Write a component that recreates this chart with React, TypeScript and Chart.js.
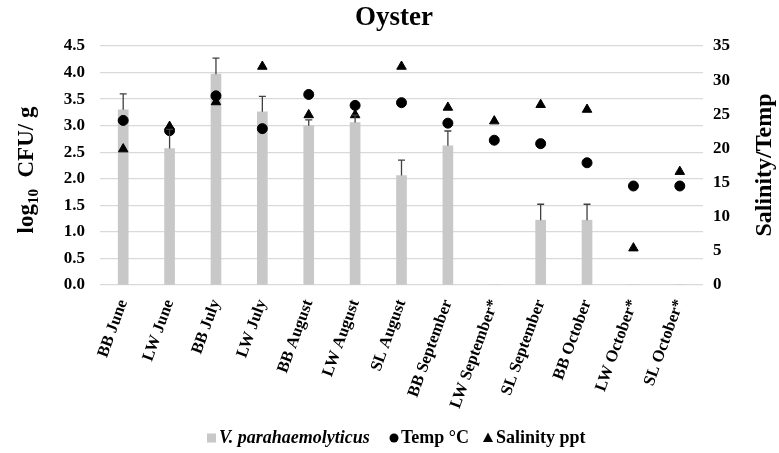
import React, { useEffect, useRef } from "react";
import { Chart, registerables } from "chart.js";

Chart.register(...registerables);

const categories = [
  "BB June", "LW June", "BB July", "LW July", "BB August", "LW August", "SL August",
  "BB September", "LW September*", "SL September", "BB October", "LW October*", "SL October*",
];
const vpValues = [3.3, 2.57, 3.97, 3.26, 3.0, 3.06, 2.06, 2.62, 0, 1.22, 1.22, 0, 0];
const vpErrorTop = [3.6, 2.93, 4.27, 3.55, 3.11, 3.2, 2.35, 2.9, null, 1.52, 1.52, null, null];
const tempValues = [24.1, 22.6, 27.7, 22.9, 27.9, 26.3, 26.7, 23.7, 21.2, 20.7, 17.9, 14.5, 14.5];
const salinityValues = [19.9, 23.2, 26.8, 32, 24.9, 24.9, 32, 26, 24, 26.4, 25.7, 5.4, 16.6];
const leftTicks = [0, 0.5, 1, 1.5, 2, 2.5, 3, 3.5, 4, 4.5];
const rightTicks = [0, 5, 10, 15, 20, 25, 30, 35];

const SERIF = "'Liberation Serif', 'Times New Roman', serif";

const errorBarPlugin = {
  id: "errorBars",
  afterDatasetsDraw(chart: any) {
    const ctx = chart.ctx;
    const meta = chart.getDatasetMeta(0);
    const y = chart.scales.y;
    ctx.save();
    ctx.strokeStyle = "#404040";
    ctx.lineWidth = 1.3;
    meta.data.forEach((bar: any, i: number) => {
      const top = vpErrorTop[i];
      if (top == null) return;
      const x = bar.x;
      const y0 = y.getPixelForValue(vpValues[i]);
      const y1 = y.getPixelForValue(top);
      ctx.beginPath();
      ctx.moveTo(x, y0);
      ctx.lineTo(x, y1);
      ctx.moveTo(x - 3.5, y1);
      ctx.lineTo(x + 3.5, y1);
      ctx.stroke();
    });
    ctx.restore();
  },
};

const decorPlugin = {
  id: "decor",
  afterDraw(chart: any) {
    const ctx = chart.ctx;
    ctx.save();
    ctx.fillStyle = "#000";
    // Title
    ctx.font = `bold 27px ${SERIF}`;
    ctx.textAlign = "center";
    ctx.textBaseline = "middle";
    ctx.fillText("Oyster", 394, 18);

    // Left axis title with subscript
    const big = `bold 23px ${SERIF}`;
    const small = `bold 15px ${SERIF}`;
    ctx.save();
    ctx.translate(27, 170);
    ctx.rotate(-Math.PI / 2);
    ctx.textBaseline = "middle";
    ctx.textAlign = "left";
    ctx.font = big;
    const w1 = ctx.measureText("log").width;
    ctx.font = small;
    const w2 = ctx.measureText("10").width;
    ctx.font = big;
    const w3 = ctx.measureText("  CFU/ g").width;
    const total = w1 + w2 + w3;
    let x = -total / 2;
    ctx.font = big;
    ctx.fillText("log", x, 0);
    x += w1;
    ctx.font = small;
    ctx.fillText("10", x, 7);
    x += w2;
    ctx.font = big;
    ctx.fillText("  CFU/ g", x, 0);
    ctx.restore();

    // Right axis title
    ctx.save();
    ctx.translate(765, 165);
    ctx.rotate(-Math.PI / 2);
    ctx.textAlign = "center";
    ctx.textBaseline = "middle";
    ctx.font = `bold 24px ${SERIF}`;
    ctx.fillText("Salinity/Temp", 0, 0);
    ctx.restore();

    // Legend
    const ly = 438;
    ctx.textBaseline = "middle";
    ctx.textAlign = "left";
    ctx.fillStyle = "#c8c8c8";
    ctx.fillRect(207, ly - 4.5, 9, 9);
    ctx.fillStyle = "#000";
    ctx.font = `italic bold 18px ${SERIF}`;
    ctx.fillText("V. parahaemolyticus", 219, ly);
    ctx.beginPath();
    ctx.arc(394, ly, 4.5, 0, Math.PI * 2);
    ctx.fill();
    ctx.font = `bold 18px ${SERIF}`;
    ctx.fillText("Temp °C", 401, ly);
    ctx.beginPath();
    ctx.moveTo(488, ly - 5.5);
    ctx.lineTo(493, ly + 4);
    ctx.lineTo(483, ly + 4);
    ctx.closePath();
    ctx.fill();
    ctx.fillText("Salinity ppt", 496, ly);
    ctx.restore();
  },
};

export default function App() {
  const ref = useRef<HTMLCanvasElement>(null);
  useEffect(() => {
    if (!ref.current) return;
    const tickFont = { family: SERIF, size: 17, weight: "bold" as const };
    const xFont = { family: SERIF, size: 16.5, weight: "bold" as const };
    const chart = new Chart(ref.current, {
      type: "bar",
      data: {
        labels: categories,
        datasets: [
          {
            type: "bar",
            label: "V. parahaemolyticus",
            data: vpValues,
            backgroundColor: "#c8c8c8",
            barThickness: 10,
            yAxisID: "y",
            order: 2,
          } as any,
          {
            type: "line",
            label: "Temp °C",
            data: tempValues,
            showLine: false,
            pointStyle: "circle",
            pointRadius: 5,
            pointBackgroundColor: "#000",
            pointBorderColor: "#000",
            yAxisID: "y1",
            order: 1,
          } as any,
          {
            type: "line",
            label: "Salinity ppt",
            data: salinityValues,
            showLine: false,
            pointStyle: "triangle",
            pointRadius: 5.5,
            pointBackgroundColor: "#000",
            pointBorderColor: "#000",
            yAxisID: "y1",
            order: 0,
          } as any,
        ],
      },
      options: {
        responsive: false,
        animation: false,
        layout: { padding: { top: 46, left: 0, right: 0, bottom: 0 } },
        plugins: {
          legend: { display: false },
          title: { display: false },
          tooltip: { enabled: false },
        },
        scales: {
          x: {
            grid: { display: false, drawTicks: true, tickLength: 8 },
            border: { display: false },
            ticks: {
              font: xFont,
              color: "#000",
              minRotation: 70,
              maxRotation: 70,
              autoSkip: false,
              padding: 4,
            },
            afterFit(scale: any) {
              scale.height = 168;
            },
          },
          y: {
            position: "left",
            min: 0,
            max: 4.5,
            afterBuildTicks(scale: any) {
              scale.ticks = leftTicks.map((v) => ({ value: v }));
            },
            grid: { color: "#d9d9d9", lineWidth: 1.3, drawTicks: false },
            border: { display: false },
            ticks: {
              font: tickFont,
              color: "#000",
              padding: 15,
              callback: (v: any) => Number(v).toFixed(1),
            },
            afterFit(scale: any) {
              scale.width = 100;
            },
          },
          y1: {
            position: "right",
            min: 0,
            max: 35,
            afterBuildTicks(scale: any) {
              scale.ticks = rightTicks.map((v) => ({ value: v }));
            },
            grid: { display: false, drawTicks: false },
            border: { display: false },
            ticks: {
              font: tickFont,
              color: "#000",
              padding: 10,
            },
            afterFit(scale: any) {
              scale.width = 76;
            },
          },
        },
      },
      plugins: [errorBarPlugin, decorPlugin],
    } as any);
    return () => chart.destroy();
  }, []);
  return (
    <div style={{ position: "fixed", left: 0, top: 0, width: 779, height: 453, background: "#fff" }}>
      <canvas ref={ref} width={779} height={453} />
    </div>
  );
}
